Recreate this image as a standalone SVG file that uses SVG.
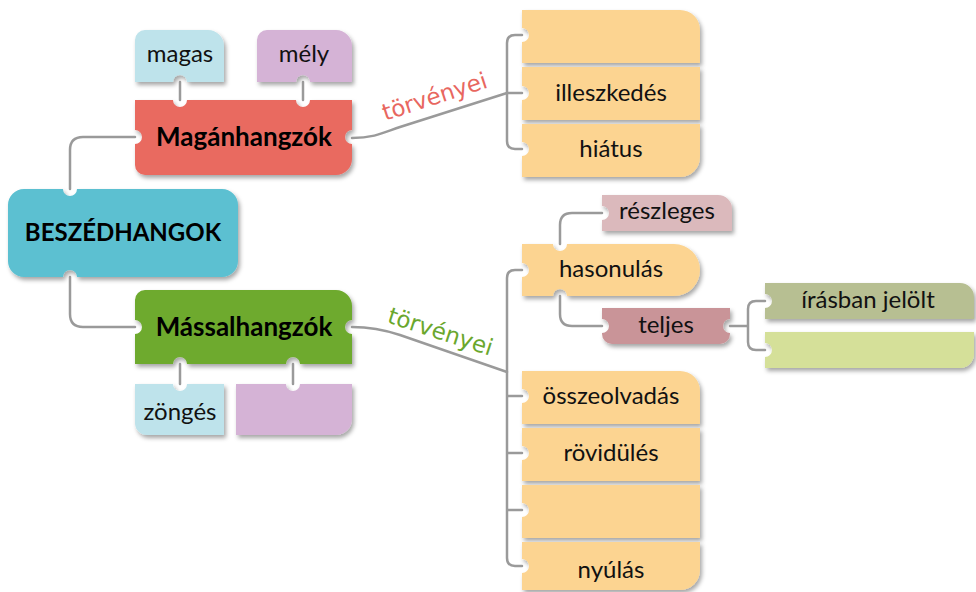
<svg xmlns="http://www.w3.org/2000/svg" width="976" height="592" viewBox="0 0 976 592">
<defs>
<filter id="sh" x="-10%" y="-20%" width="125%" height="150%">
<feDropShadow dx="2" dy="3" stdDeviation="2" flood-color="#000" flood-opacity="0.35"/>
</filter>
</defs>
<style>
.n{filter:url(#sh)}
.t{font-family:Lato,"Open Sans",sans-serif;font-size:24px;fill:#111;text-anchor:middle}
.b{font-family:Lato,"Open Sans",sans-serif;font-weight:bold;fill:#000;text-anchor:middle}
.c{fill:none;stroke:#9a9a9a;stroke-width:2.5;stroke-linecap:round}
.lbl{font-family:"DejaVu Sans",sans-serif;font-size:23px;text-anchor:middle}
</style>
<rect width="976" height="592" fill="#fff"/>
<g id="magas"><path class="n" fill="#bee3eb" d="M145,30 H208 A16,16 0 0 1 224,46 V82 H187 A7,7 0 0 0 173,82 H135 V40 A10,10 0 0 1 145,30 Z"/><text class="t" x="180" y="62">magas</text></g>
<g id="mely"><path class="n" fill="#d5b3d6" d="M267,30 H336 A16,16 0 0 1 352,46 V82 H310 A7,7 0 0 0 296,82 H257 V40 A10,10 0 0 1 267,30 Z"/><text class="t" x="304" y="62">mély</text></g>
<g id="maganhangzok"><path class="n" fill="#e96a61" d="M135,100 H173 A7,7 0 0 0 187,100 H296 A7,7 0 0 0 310,100 H352 V130 A7,7 0 0 0 352,144 V159 A16,16 0 0 1 336,175 H145 A10,10 0 0 1 135,165 V144 A7,7 0 0 0 135,130 Z"/><text class="b" x="244" y="146" font-size="26">Magánhangzók</text></g>
<g id="beszedhangok"><path class="n" fill="#5bc0d1" d="M24,189 H63 A7,7 0 0 0 77,189 H222 A16,16 0 0 1 238,205 V261 A16,16 0 0 1 222,277 H77 A7,7 0 0 0 63,277 H24 A16,16 0 0 1 8,261 V205 A16,16 0 0 1 24,189 Z"/><text class="b" x="123" y="241" font-size="24">BESZÉDHANGOK</text></g>
<g id="massalhangzok"><path class="n" fill="#6eaa2e" d="M145,290 H336 A16,16 0 0 1 352,306 V320 A7,7 0 0 0 352,334 V364 H300 A7,7 0 0 0 286,364 H187 A7,7 0 0 0 173,364 H135 V334 A7,7 0 0 0 135,320 V300 A10,10 0 0 1 145,290 Z"/><text class="b" x="244" y="336" font-size="26">Mássalhangzók</text></g>
<g id="zonges"><path class="n" fill="#bee3eb" d="M135,384 H173 A7,7 0 0 0 187,384 H224 V435 H147 A12,12 0 0 1 135,423 Z"/><text class="t" x="180" y="420">zöngés</text></g>
<g id="zongetlen"><path class="n" fill="#d5b3d6" d="M236,384 H286 A7,7 0 0 0 300,384 H352 V419 A16,16 0 0 1 336,435 H236 Z"/></g>
<g id="m1"><path class="n" fill="#fcd491" d="M522,10 H680 A20,20 0 0 1 700,30 V63 H522 V42 A7,7 0 0 0 522,28 Z"/></g>
<g id="illeszkedes"><path class="n" fill="#fcd491" d="M522,67 H700 V120 H522 V100 A7,7 0 0 0 522,86 Z"/><text class="t" x="611" y="101">illeszkedés</text></g>
<g id="hiatus"><path class="n" fill="#fcd491" d="M522,124 H700 V157 A20,20 0 0 1 680,177 H522 V156 A7,7 0 0 0 522,142 Z"/><text class="t" x="611" y="157">hiátus</text></g>
<g id="reszleges"><path class="n" fill="#dbb9bc" d="M602,195 H718 A14,14 0 0 1 732,209 V231 H602 V220 A7,7 0 0 0 602,206 Z"/><text class="t" x="667" y="219">részleges</text></g>
<g id="hasonulas"><path class="n" fill="#fcd491" d="M522,244 H553 A7,7 0 0 0 567,244 H674 A26,26 0 0 1 700,270 A26,26 0 0 1 674,296 H567 A7,7 0 0 0 553,296 H522 V277 A7,7 0 0 0 522,263 Z"/><text class="t" x="611" y="277">hasonulás</text></g>
<g id="teljes"><path class="n" fill="#c99498" d="M602,308 H730 V319 A7,7 0 0 0 730,333 V334 A10,10 0 0 1 720,344 H612 A10,10 0 0 1 602,334 V333 A7,7 0 0 0 602,319 Z"/><text class="t" x="666" y="333">teljes</text></g>
<g id="irasban"><path class="n" fill="#b7bf92" d="M765,283 H960 A14,14 0 0 1 974,297 V319 H765 V308 A7,7 0 0 0 765,294 Z"/><text class="t" x="868" y="308">írásban jelölt</text></g>
<g id="jeloletlen"><path class="n" fill="#d5e099" d="M765,332 H974 V354 A14,14 0 0 1 960,368 H765 V357 A7,7 0 0 0 765,343 Z"/></g>
<g id="osszeolvadas"><path class="n" fill="#fcd491" d="M522,371 H680 A20,20 0 0 1 700,391 V424 H522 V403 A7,7 0 0 0 522,389 Z"/><text class="t" x="611" y="404">összeolvadás</text></g>
<g id="rovidules"><path class="n" fill="#fcd491" d="M522,428 H700 V481 H522 V460 A7,7 0 0 0 522,446 Z"/><text class="t" x="611" y="461">rövidülés</text></g>
<g id="m3"><path class="n" fill="#fcd491" d="M522,485 H700 V538 H522 V517 A7,7 0 0 0 522,503 Z"/></g>
<g id="nyulas"><path class="n" fill="#fcd491" d="M522,542 H700 V570 A20,20 0 0 1 680,590 H522 V573 A7,7 0 0 0 522,559 Z"/><text class="t" x="611" y="578">nyúlás</text></g>
<g id="connectors">
<path class="c" d="M70,189 V150 Q70,137 83,137 H135"/>
<path class="c" d="M70,277 V314 Q70,327 83,327 H135"/>
<path class="c" d="M180,82 V100 M303,82 V100 M180,364 V384 M293,364 V384"/>
<path class="c" d="M352,138 C375,138 385,132 400,127 L507,93"/>
<path class="c" d="M522,35 H515 Q507,35 507,43 V141 Q507,149 515,149 H522 M507,93 H522"/>
<path class="c" d="M352,327 C372,327 385,330 400,335 L507,372"/>
<path class="c" d="M522,270 H515 Q507,270 507,278 V558 Q507,566 515,566 H522 M507,396 H522 M507,453 H522 M507,510 H522"/>
<path class="c" d="M560,244 V225 Q560,213 572,213 H602"/>
<path class="c" d="M560,296 V314 Q560,326 572,326 H602"/>
<path class="c" d="M730,326 H748 M765,301 H756 Q748,301 748,309 V342 Q748,350 756,350 H765"/>
<text class="lbl" fill="#e8675f" transform="translate(437,104) rotate(-18)">törvényei</text>
<text class="lbl" fill="#6aa72d" transform="translate(438,339) rotate(18)">törvényei</text>
</g>
</svg>
